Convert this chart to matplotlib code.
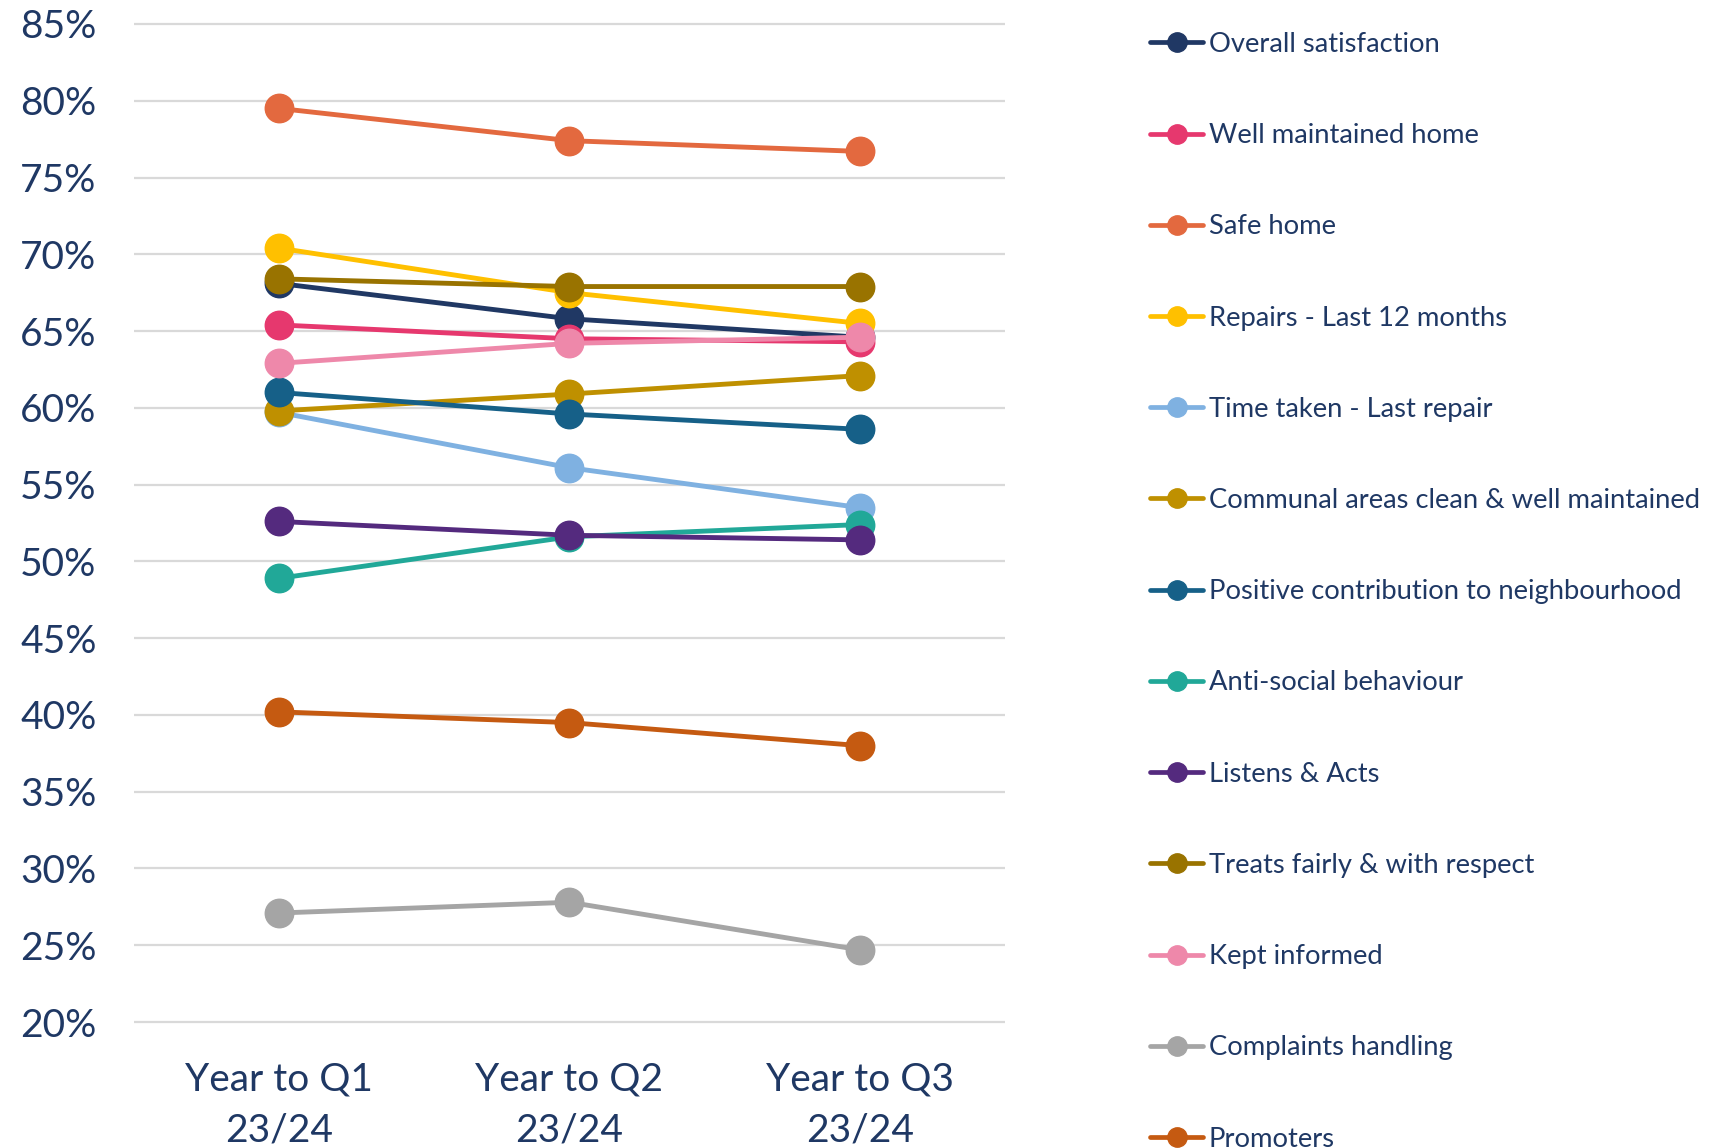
import matplotlib
matplotlib.use("Agg")
import matplotlib.pyplot as plt
from matplotlib.ticker import FuncFormatter

# Survey periods and satisfaction measures (percent)
periods = ["Year to Q1\n23/24", "Year to Q2\n23/24", "Year to Q3\n23/24"]

measures = [
    "Overall satisfaction",
    "Well maintained home",
    "Safe home",
    "Repairs - Last 12 months",
    "Time taken - Last repair",
    "Communal areas clean & well maintained",
    "Positive contribution to neighbourhood",
    "Anti-social behaviour",
    "Listens & Acts",
    "Treats fairly & with respect",
    "Kept informed",
    "Complaints handling",
    "Promoters",
]

overall_satisfaction = [68.1, 65.8, 64.6]
well_maintained_home = [65.4, 64.5, 64.3]
safe_home = [79.5, 77.4, 76.7]
repairs_last_12_months = [70.4, 67.5, 65.5]
time_taken_last_repair = [59.7, 56.1, 53.5]
communal_areas = [59.8, 60.9, 62.1]
positive_contribution = [61.0, 59.6, 58.6]
anti_social_behaviour = [48.9, 51.6, 52.4]
listens_and_acts = [52.6, 51.7, 51.4]
treats_fairly = [68.4, 67.9, 67.9]
kept_informed = [62.9, 64.2, 64.6]
complaints_handling = [27.1, 27.8, 24.7]
promoters = [40.2, 39.5, 38.0]

series_values = [
    overall_satisfaction, well_maintained_home, safe_home,
    repairs_last_12_months, time_taken_last_repair, communal_areas,
    positive_contribution, anti_social_behaviour, listens_and_acts,
    treats_fairly, kept_informed, complaints_handling, promoters,
]

colors = [
    "#203864", "#E6386E", "#E3693F", "#FFC000", "#7FB1E1", "#BF9000",
    "#166088", "#21A898", "#542A7E", "#997300", "#EE88AA", "#A5A5A5",
    "#C55A11",
]

y_ticks = list(range(20, 90, 5))
text_color = "#1F3864"

plt.rcParams["font.family"] = ["Lato", "DejaVu Sans"]

W, H = 1731, 1148
fig = plt.figure(figsize=(W / 100, H / 100), dpi=100)

ax_left, ax_right = 134, 1005
ax_top, ax_bottom = 16.3, 1029.7
ax = fig.add_axes([ax_left / W, 1 - ax_bottom / H,
                   (ax_right - ax_left) / W, (ax_bottom - ax_top) / H])

x = list(range(len(periods)))
for name, vals, col in zip(measures, series_values, colors):
    ax.plot(x, vals, color=col, linewidth=3.5, marker="o", markersize=20.5,
            solid_capstyle="round", label=name)

ax.set_xlim(-0.5, len(periods) - 0.5)
ax.set_ylim(19.5, 85.5)
ax.set_yticks(y_ticks)
ax.yaxis.set_major_formatter(FuncFormatter(lambda v, p: f"{v:.0f}%"))
ax.set_xticks(x)
ax.set_xticklabels(periods, linespacing=1.5)

ax.grid(axis="y", color="#D9D9D9", linewidth=1.6)
ax.set_axisbelow(True)
for s in ax.spines.values():
    s.set_visible(False)
ax.tick_params(axis="y", length=0, pad=27, labelsize=28, labelcolor=text_color)
ax.tick_params(axis="x", length=0, pad=23, labelsize=28, labelcolor=text_color)

handles, labels = ax.get_legend_handles_labels()
leg = fig.legend(handles, labels, loc="upper left",
                 bbox_to_anchor=(1150 / W, 1 - 32 / H),
                 frameon=False, fontsize=19.7, labelcolor=text_color,
                 handlelength=1.95, handletextpad=0.2, labelspacing=2.42,
                 markerscale=0.68, borderaxespad=0, borderpad=0)
for line in leg.get_lines():
    line.set_linewidth(3.4)

fig.savefig("out.png", dpi=100)
